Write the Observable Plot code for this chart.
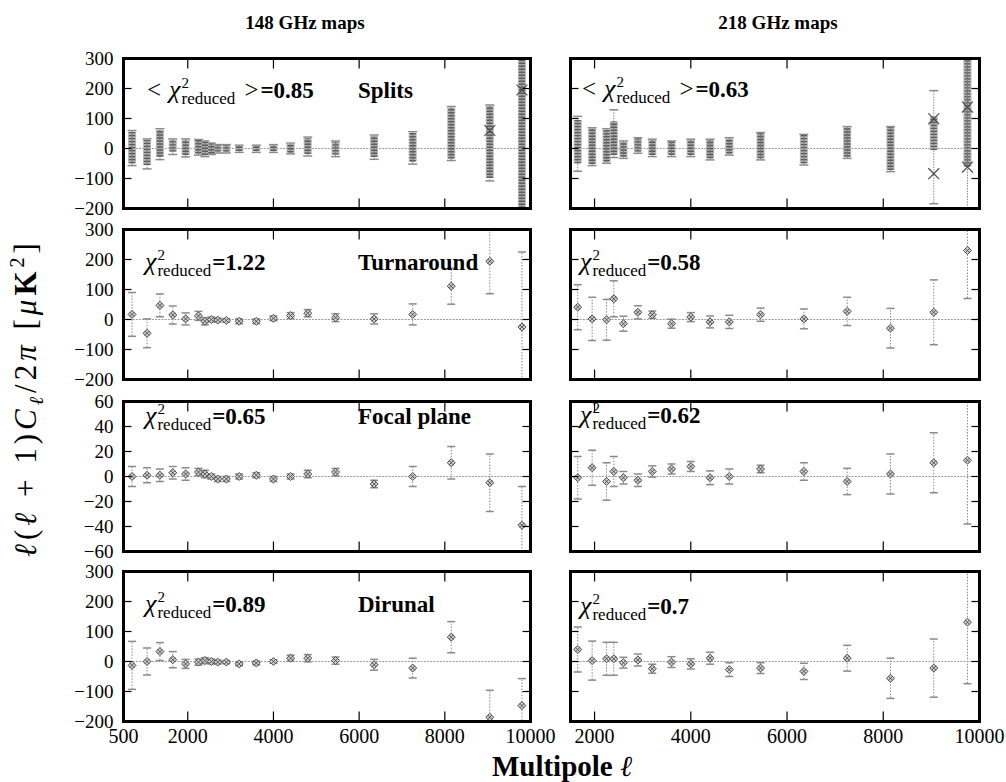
<!DOCTYPE html>
<html><head><meta charset="utf-8">
<script src="https://cdn.jsdelivr.net/npm/d3@7"></script>
<script src="https://cdn.jsdelivr.net/npm/@observablehq/plot@0.6"></script>
<style>
body{margin:0;background:#fff;}
#wrap{position:relative;width:1006px;height:782px;overflow:hidden;font-family:"Liberation Serif",serif;}
#wrap svg{position:absolute;overflow:visible;}
</style></head><body><div id="wrap"></div>
<script>
// ---------------- data ----------------
const ell148 = [700,1050,1350,1650,1950,2250,2400,2550,2700,2900,3200,3600,4000,4400,4800,5450,6350,7250,8150,9050,9800];
const ell218 = [1650,1950,2250,2400,2600,2900,3200,3600,4000,4400,4800,5450,6350,7250,8150,9050,9750];

const splits148Lo    = [-51,-57,-29,-12,-23,-18,-23,-18,-12,-12,-10,-10,-10,-15,-20,-22,-30,-45,-35,-100,-200];
const splits148Hi    = [54,27,60,27,27,27,21,15,10,10,8,8,10,15,32,20,40,50,135,140,300];
const splits148CapLo = [-57,-68,-37,-20,-28,-22,-27,-20,-15,-15,-13,-13,-13,-18,-25,-27,-36,-52,-40,-108,-210];
const splits148CapHi = [60,32,66,32,32,30,25,18,13,13,11,11,13,18,38,25,45,56,140,145,310];
const splits148XL = [9050, 9800];
const splits148XV = [60, 195];

const splits218Lo    = [-51,-53,-45,-23,-29,-12,-23,-23,-23,-34,-18,-34,-51,-29,-73,-7,-62];
const splits218Hi    = [93,66,60,88,21,32,27,21,27,27,32,49,43,69,69,104,293];
const splits218CapLo = [-76,-57,-49,-30,-33,-16,-27,-27,-27,-38,-22,-38,-55,-33,-77,-184,-210];
const splits218CapHi = [107,69,66,129,25,36,31,25,31,31,36,53,47,73,73,193,310];
const splits218XL = [9050, 9050, 9750, 9750];
const splits218XV = [99, -84, 138, -62];

const turn148Val = [17,-46,47,15,2,12,-6,0,-2,-3,-6,-6,4,13,21,6,2,17,111,194,-25];
const turn148Err = [73,48,38,30,20,15,12,8,6,6,8,8,8,10,12,13,17,35,60,108,250];
const turn218Val = [41,2,-1,69,-14,24,16,-14,8,-8,-8,16,2,27,-29,24,230];
const turn218Err = [75,72,68,60,25,22,12,15,15,20,22,22,33,47,66,108,160];

const focal148Val = [0,1,1,3,2,3.5,2,0,-2,-2,0,1,-2,0,2,3.5,-6,0,11,-5,-39];
const focal148Err = [8,6,5,5,5,3,3,2,2,2,2,2,2,2,3,3,3,8,13,23,31];
const focal218Val = [-1,7,-4,4,-1,-3,4,6,8,-1,0,6,4,-4,2,11,13];
const focal218Err = [17,14,15,12,5,5,4.5,4,4,5.5,6,3,7,10.5,16,24,51];

const diur148Val = [-13,0,33,6,-8,-2,3,0,-2,-2,-8,-5,0,11,11,3,-11,-22,81,-186,-147];
const diur148Err = [80,45,30,27,15,10,10,8,6,5,6,6,6,10,12,12,18,33,52,90,90];
const diur218Val = [40,3,9,9,-4,5,-24,-2,-8,11,-27,-22,-33,11,-56,-22,131];
const diur218Err = [75,65,55,55,18,20,15,18,17,20,23,18,27,43,67,97,205];

const chi148 = ["0.85","1.22","0.65","0.89"];
const chi218 = ["0.63","0.58","0.62","0.7"];
const testNames = ["Splits","Turnaround","Focal plane","Dirunal"];
const columnTitles = ["148 GHz maps","218 GHz maps"];
const yTicksWide = [-200,-100,0,100,200,300];
const yTicksFocal = [-60,-40,-20,0,20,40,60];
const xTicks148 = [500,2000,4000,6000,8000,10000];
const xTicks218 = [2000,4000,6000,8000,10000];
const xDomain148 = [500,10000];
const xDomain218 = [1500,10000];

// ---------------- helpers ----------------
const FONT = '"Liberation Serif", "DejaVu Serif", serif';
const capSym = {draw(c,s){const w=Math.sqrt(s/Math.PI);c.moveTo(-w,0);c.lineTo(w,0);}};
const tickL = {draw(c,s){const w=2*Math.sqrt(s/Math.PI);c.moveTo(0,0);c.lineTo(w,0);}};
const tickR = {draw(c,s){const w=2*Math.sqrt(s/Math.PI);c.moveTo(0,0);c.lineTo(-w,0);}};
const tickB = {draw(c,s){const w=2*Math.sqrt(s/Math.PI);c.moveTo(0,0);c.lineTo(0,-w);}};
const tickT = {draw(c,s){const w=2*Math.sqrt(s/Math.PI);c.moveTo(0,0);c.lineTo(0,w);}};
const fmt = d => d < 0 ? "\u2212" + (-d) : String(d);

const colX = [123, 570], colW = [407, 409];
const rowY = [58, 229, 401, 571], H = 150;
const baseRel = [[40,39],[41,41],[23,22],[41,43]];

const wrap = document.getElementById("wrap");

function pointRows(ells, val, err){ return ells.map((l,i)=>({l, v:val[i], e:err[i]})); }

function makePanel(row, col){
  const left = col === 0, bottom = row === 3;
  const ells = left ? ell148 : ell218;
  const xDomain = left ? xDomain148 : xDomain218;
  const xTicks = left ? xTicks148 : xTicks218;
  const yDomain = row === 2 ? [-60,60] : [-200,300];
  const yTicks = row === 2 ? yTicksFocal : yTicksWide;
  const ml = left ? 56 : 6, mr = left ? 8 : 32, mt = 6, mb = bottom ? 44 : 6;
  const W = colW[col];
  const grey = "#8a8a8a", dark = "#4a4a4a";
  const marks = [
    Plot.ruleY([0], {stroke:"#9a9a9a", strokeWidth:1, strokeDasharray:"2,1.2"})
  ];
  if (row === 0) {
    const lo = left ? splits148Lo : splits218Lo, hi = left ? splits148Hi : splits218Hi;
    const cl = left ? splits148CapLo : splits218CapLo, ch = left ? splits148CapHi : splits218CapHi;
    const rows = ells.map((l,i)=>({l, lo:lo[i], hi:hi[i], cl:cl[i], ch:ch[i]}));
    const xl = left ? splits148XL : splits218XL, xv = left ? splits148XV : splits218XV;
    const xs = xl.map((l,i)=>({l, v:xv[i]}));
    marks.push(
      Plot.ruleX(rows, {x:"l", y1:"cl", y2:"ch", stroke:grey, strokeWidth:1, strokeDasharray:"1.5,1.2", clip:true}),
      Plot.dot(rows, {x:"l", y:"cl", symbol:capSym, r:4.5, stroke:grey, fill:"none", clip:true}),
      Plot.dot(rows, {x:"l", y:"ch", symbol:capSym, r:4.5, stroke:grey, fill:"none", clip:true}),
      Plot.ruleX(rows, {x:"l", y1:"lo", y2:"hi", stroke:"#b4b4b4", strokeWidth:8, clip:true}),
      Plot.ruleX(rows, {x:"l", y1:"lo", y2:"hi", stroke:"#555", strokeWidth:6, strokeDasharray:"1.4,1.6", clip:true}),
      Plot.ruleX(rows, {x:"l", y1:"lo", y2:"hi", stroke:"#777", strokeWidth:1, clip:true}),
      Plot.dot(xs, {x:"l", y:"v", symbol:"times", r:5, stroke:dark, strokeWidth:1.2, clip:true})
    );
  } else {
    const val = row===1 ? (left?turn148Val:turn218Val) : row===2 ? (left?focal148Val:focal218Val) : (left?diur148Val:diur218Val);
    const err = row===1 ? (left?turn148Err:turn218Err) : row===2 ? (left?focal148Err:focal218Err) : (left?diur148Err:diur218Err);
    const rows = pointRows(ells, val, err);
    marks.push(
      Plot.ruleX(rows, {x:"l", y1:d=>d.v-d.e, y2:d=>d.v+d.e, stroke:grey, strokeWidth:1, strokeDasharray:"1.5,1.5", clip:true}),
      Plot.dot(rows, {x:"l", y:d=>d.v-d.e, symbol:capSym, r:4, stroke:grey, fill:"none", clip:true}),
      Plot.dot(rows, {x:"l", y:d=>d.v+d.e, symbol:capSym, r:4, stroke:grey, fill:"none", clip:true}),
      Plot.dot(rows, {x:"l", y:"v", symbol:"diamond2", r:3.6, stroke:dark, strokeWidth:1, fill:"#d0d0d0", clip:true}),
      Plot.dot(rows, {x:"l", y:"v", symbol:"times", r:2.2, stroke:dark, strokeWidth:0.9, clip:true})
    );
  }
  // inward ticks
  const yt = yTicks.slice(1, -1), xt = xTicks.filter(t => t > xDomain[0] && t < xDomain[1]);
  marks.push(
    Plot.dot(yt, {x:()=>xDomain[0], y:d=>d, symbol:tickL, r:4, stroke:"black", strokeWidth:1.2}),
    Plot.dot(yt, {x:()=>xDomain[1], y:d=>d, symbol:tickR, r:4, stroke:"black", strokeWidth:1.2}),
    Plot.dot(xt, {x:d=>d, y:()=>yDomain[0], symbol:tickB, r:5, stroke:"black", strokeWidth:1.2}),
    Plot.dot(xt, {x:d=>d, y:()=>yDomain[1], symbol:tickT, r:5, stroke:"black", strokeWidth:1.2}),
    Plot.frame({stroke:"black", strokeWidth:3})
  );
  if (left) marks.push(Plot.axisY({anchor:"left", ticks:yTicks, tickSize:0, tickPadding:10, tickFormat:fmt, label:null, fontSize:19}));
  if (bottom) marks.push(Plot.axisX({anchor:"bottom", ticks:xTicks, tickSize:0, tickPadding:7, tickFormat:d=>String(d), label:null, fontSize:20}));

  const svg = Plot.plot({
    width: ml + W + mr, height: mt + H + mb,
    marginLeft: ml, marginRight: mr, marginTop: mt, marginBottom: mb,
    x: {domain: xDomain, axis: null},
    y: {domain: yDomain, axis: null},
    style: {fontFamily: FONT, fontSize: "20px", background: "none", overflow: "visible", color: "black"},
    marks
  });
  svg.style.left = (colX[col] - ml) + "px";
  svg.style.top = (rowY[row] - mt) + "px";
  wrap.appendChild(svg);

  // annotations
  const g = d3.select(svg).append("g").attr("font-family", FONT).attr("fill", "black").attr("text-anchor", "start");
  const y0 = mt + baseRel[row][col];
  const run = (x, y, str, size, extra={}) => {
    const t = g.append("text").attr("x", x).attr("y", y).attr("font-size", size).attr("text-anchor", "start").text(str);
    for (const k in extra) t.attr(k, extra[k]);
    return x + t.node().getComputedTextLength();
  };
  const bracket = row === 0;
  let x = ml + (left ? (bracket ? 24 : 22) : (bracket ? 12 : 10));
  if (bracket) x = run(x, y0, "<", 25) + 8;
  x = run(x, y0, "\u03C7", 26, {"font-style":"italic"});
  run(x + 1, y0 - 10, "2", 15);
  x = run(x + 1, y0 + 6, "reduced", 17);
  if (bracket) x = run(x + 9, y0, ">", 25) + 1;
  run(x + 1, y0, "=" + (left ? chi148[row] : chi218[row]), 23, {"font-weight":"bold"});
  if (left) run(ml + 235, y0, testNames[row], 23, {"font-weight":"bold"});
}

// page-level text
const page = d3.select(wrap).append("svg").attr("width",1006).attr("height",782)
  .style("left","0px").style("top","0px").attr("font-family", FONT);
page.append("text").attr("x",305).attr("y",29).attr("text-anchor","middle").attr("font-size",19).attr("font-weight","bold").text(columnTitles[0]);
page.append("text").attr("x",778).attr("y",29).attr("text-anchor","middle").attr("font-size",19).attr("font-weight","bold").text(columnTitles[1]);
page.append("text").attr("x",562).attr("y",776).attr("text-anchor","middle").attr("font-size",29).attr("font-weight","bold")
  .text("Multipole ").append("tspan").attr("font-style","italic").attr("font-weight","normal").text("\u2113");
const yl = page.append("text").attr("transform","translate(36,398) rotate(-90)").attr("text-anchor","middle").attr("font-size",31).attr("letter-spacing",4);
yl.append("tspan").attr("font-style","italic").text("\u2113");
yl.append("tspan").text("(");
yl.append("tspan").attr("font-style","italic").text("\u2113");
yl.append("tspan").text(" + 1)");
yl.append("tspan").attr("font-style","italic").text("C");
yl.append("tspan").attr("font-style","italic").attr("font-size",20).attr("dy",7).text("\u2113");
yl.append("tspan").attr("dy",-7).text("/2");
yl.append("tspan").attr("font-style","italic").text("\u03C0");
yl.append("tspan").text(" [");
yl.append("tspan").attr("font-style","italic").text("\u03BC");
yl.append("tspan").attr("font-weight","bold").text("K");
yl.append("tspan").attr("font-size",20).attr("dy",-12).text("2");
yl.append("tspan").attr("dy",12).text("]");

for (let r = 0; r < 4; r++) for (let c = 0; c < 2; c++) makePanel(r, c);
</script></body></html>
